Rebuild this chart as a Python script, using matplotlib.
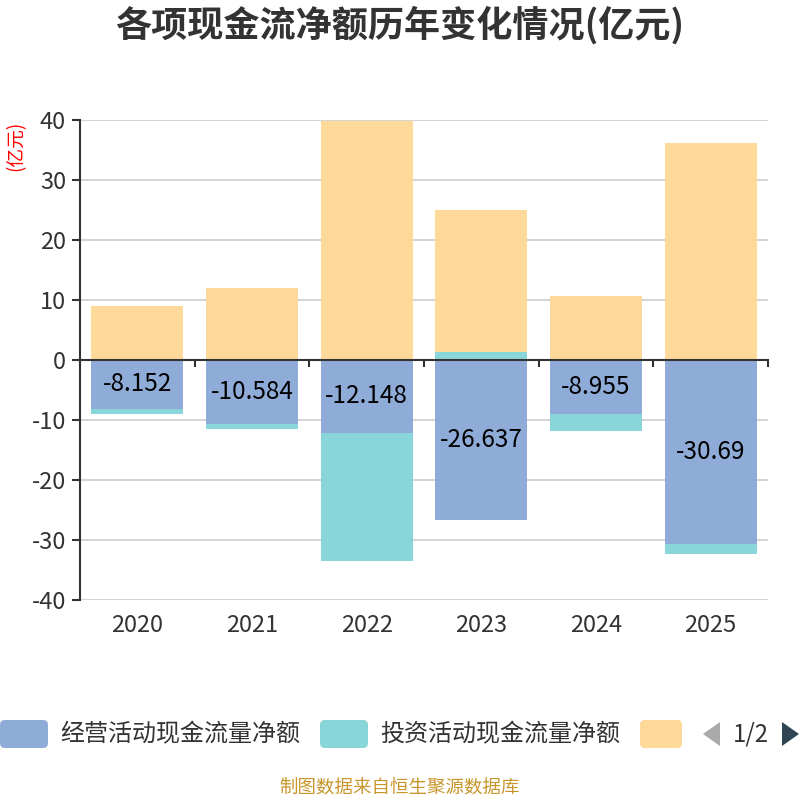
import matplotlib
matplotlib.use("Agg")
import matplotlib.pyplot as plt
from matplotlib.patches import FancyBboxPatch, Polygon
import numpy as np

plt.rcParams['font.family'] = ['Noto Sans CJK SC', 'DejaVu Sans']

years = ['2020', '2021', '2022', '2023', '2024', '2025']
series_names = ['经营活动现金流量净额', '投资活动现金流量净额', '筹资活动现金流量净额']
operating = [-8.152, -10.584, -12.148, -26.637, -8.955, -30.69]
investing = [-0.80, -0.92, -21.30, 1.33, -2.88, -1.64]
financing = [9.0, 12.0, 39.9, 23.67, 10.6, 36.25]
colors = ['#8FACD8', '#88D6DA', '#FFD99A']
yticks = [-40, -30, -20, -10, 0, 10, 20, 30, 40]

fig = plt.figure(figsize=(8, 8), dpi=100)
ax = fig.add_axes([0.1, 0.25, 0.86, 0.60])

x = np.arange(len(years))
pos_base = np.zeros(len(years))
neg_base = np.zeros(len(years))
for vals, c, name in zip([operating, investing, financing], colors, series_names):
    vals = np.array(vals, dtype=float)
    bottoms = np.where(vals >= 0, pos_base, neg_base)
    ax.bar(x, vals, bottom=bottoms, width=0.8, color=c, label=name, zorder=3)
    pos_base = np.where(vals >= 0, pos_base + vals, pos_base)
    neg_base = np.where(vals < 0, neg_base + vals, neg_base)
    if name == series_names[0]:
        for xi, v in zip(x, vals):
            ax.text(xi, v / 2, f"{v:g}", ha='center', va='center', fontsize=17.5, color='black', zorder=5)

ax.set_xlim(-0.5, len(years) - 0.5)
ax.set_ylim(-40, 40)
ax.set_yticks(yticks)
ax.set_yticklabels([str(t) for t in yticks], fontsize=17, color='#333333')
ax.yaxis.grid(True, color='#cccccc', linewidth=1.2, zorder=0)
ax.set_axisbelow(True)

for s in ['top', 'right', 'bottom']:
    ax.spines[s].set_visible(False)
ax.spines['left'].set_color('#333333')
ax.spines['left'].set_linewidth(1.5)
ax.tick_params(axis='y', length=6, width=1.5, color='#333333', pad=4)

# x axis at zero with ticks between categories
ax.axhline(0, color='#333333', linewidth=1.5, zorder=4)
ax.set_xticks([])
for b in np.arange(-0.5, len(years), 1.0):
    ax.plot([b, b], [0, -1.0], color='#333333', linewidth=1.5, zorder=4, clip_on=False)
for xi, yl in zip(x, years):
    ax.text(xi, -42.3, yl, ha='center', va='top', fontsize=17, color='#333333')

fig.text(0.5, 0.968, '各项现金流净额历年变化情况(亿元)', ha='center', va='center',
         fontsize=26, fontweight='bold', color='#333333')
fig.text(0.02, 0.818, '(亿元)', rotation=90, ha='center', va='center', fontsize=13.5, color='red')

# legend
W, H = 800.0, 800.0
def box(x0, y0, w, h, c):
    p = FancyBboxPatch((x0 / W, y0 / H), w / W, h / H, boxstyle='round,pad=0,rounding_size=0.006',
                       transform=fig.transFigure, facecolor=c, edgecolor='none')
    fig.patches.append(p)
ly = 800 - 748
box(0, ly, 48, 28, colors[0])
fig.text(60 / W, (ly + 14) / H, series_names[0], ha='left', va='center', fontsize=17.3, color='#333333')
box(320, ly, 48, 28, colors[1])
fig.text(380 / W, (ly + 14) / H, series_names[1], ha='left', va='center', fontsize=17.3, color='#333333')
box(640, ly, 42, 28, colors[2])
fig.patches.append(Polygon([[(720) / W, (ly + 2) / H], [(720) / W, (ly + 26) / H], [(703) / W, (ly + 14) / H]],
                           closed=True, transform=fig.transFigure, facecolor='#aaaaaa', edgecolor='none'))
fig.text(751 / W, (ly + 14) / H, '1/2', ha='center', va='center', fontsize=17.3, color='#333333')
fig.patches.append(Polygon([[(782) / W, (ly + 2) / H], [(782) / W, (ly + 26) / H], [(799) / W, (ly + 14) / H]],
                           closed=True, transform=fig.transFigure, facecolor='#2f4554', edgecolor='none'))

fig.text(0.5, 0.014, '制图数据来自恒生聚源数据库', ha='center', va='center', fontsize=13.3, color='#c8962a')

fig.savefig('out.png', dpi=100)
